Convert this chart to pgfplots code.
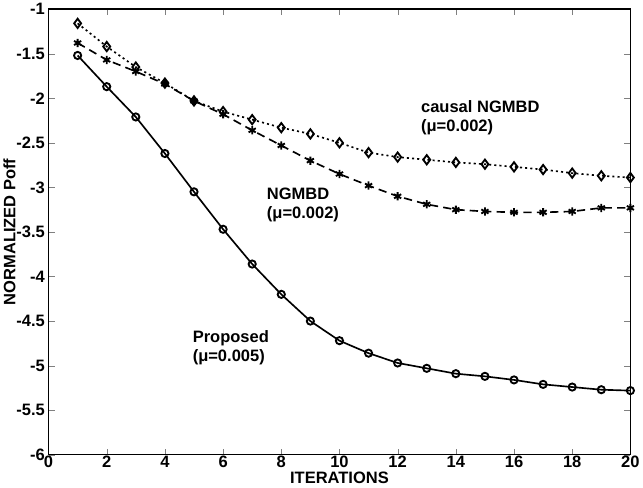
\documentclass[border=0pt]{standalone}
\usepackage{fontspec}
\setmainfont{Liberation Sans}
\usepackage{pgfplots}
\pgfplotsset{compat=1.18}

\begin{document}
\begin{tikzpicture}
\begin{axis}[
    scale only axis,
    width=564pt, height=432pt,
    xmin=0, xmax=20, ymin=-6, ymax=-1,
    xtick={0,2,...,20},
    ytick={-6,-5.5,...,-1},
    tick align=inside,
    major tick length=6pt,
    xtick pos=both, ytick pos=both,
    axis line style={line width=1.2pt},
    /pgf/number format/assume math mode=true,
    ticklabel style={font=\fontsize{16}{19}\selectfont\bfseries},
    xticklabel style={yshift=2pt},
    yticklabel style={/pgf/number format/fixed},
    xlabel={ITERATIONS},
    ylabel={NORMALIZED Poff},
    label style={font=\fontsize{16}{19}\selectfont\bfseries},
    xlabel style={yshift=3pt},
    ylabel style={yshift=-6pt},
    clip=false,
]
% Proposed (mu=0.005)
\addplot[black, line width=1.6pt, mark=o, mark size=3.5pt, mark options={solid, line width=1.8pt}] coordinates {
(1,-1.52) (2,-1.87) (3,-2.21) (4,-2.62) (5,-3.05) (6,-3.47) (7,-3.86) (8,-4.20)
(9,-4.50) (10,-4.72) (11,-4.86) (12,-4.97) (13,-5.03) (14,-5.09) (15,-5.12)
(16,-5.16) (17,-5.21) (18,-5.24) (19,-5.27) (20,-5.28)
};
% NGMBD (mu=0.002)
\addplot[black, line width=1.6pt, dashed, dash pattern=on 8pt off 5pt, mark=asterisk, mark size=4pt, mark options={solid, line width=1.8pt}] coordinates {
(1,-1.38) (2,-1.57) (3,-1.70) (4,-1.84) (5,-2.03) (6,-2.18) (7,-2.36) (8,-2.53)
(9,-2.70) (10,-2.85) (11,-2.98) (12,-3.10) (13,-3.19) (14,-3.25) (15,-3.27)
(16,-3.28) (17,-3.28) (18,-3.27) (19,-3.23) (20,-3.23)
};
% causal NGMBD (mu=0.002)
\addplot[black, line width=1.6pt, dash pattern=on 2pt off 3pt, mark=diamond, mark size=4.5pt, mark options={solid, line width=1.8pt}] coordinates {
(1,-1.16) (2,-1.42) (3,-1.65) (4,-1.83) (5,-2.03) (6,-2.15) (7,-2.24) (8,-2.33)
(9,-2.40) (10,-2.50) (11,-2.61) (12,-2.66) (13,-2.69) (14,-2.72) (15,-2.74)
(16,-2.77) (17,-2.80) (18,-2.84) (19,-2.87) (20,-2.89)
};
\node[anchor=north west, align=left, font=\fontsize{16}{19}\selectfont\bfseries, inner sep=0pt]
  at (axis cs:12.8,-2.02) {causal NGMBD\\(μ=0.002)};
\node[anchor=north west, align=left, font=\fontsize{16}{19}\selectfont\bfseries, inner sep=0pt]
  at (axis cs:7.5,-3.0) {NGMBD\\(μ=0.002)};
\node[anchor=north west, align=left, font=\fontsize{16}{19}\selectfont\bfseries, inner sep=0pt]
  at (axis cs:4.95,-4.6) {Proposed\\(μ=0.005)};
\end{axis}
\end{tikzpicture}
\end{document}
